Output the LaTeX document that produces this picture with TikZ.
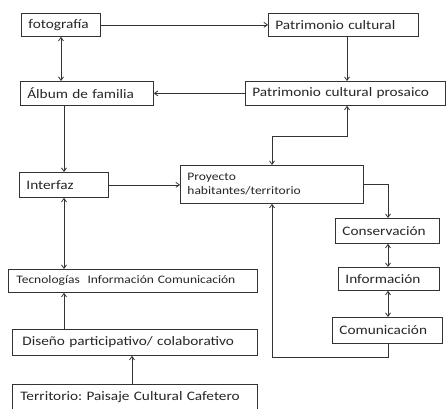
\documentclass[tikz,border=0pt]{standalone}
\usepackage{fontspec}
\setmainfont[FakeStretch=1.18]{Carlito}
\usetikzlibrary{arrows.meta}
\frenchspacing
\begin{document}
\begin{tikzpicture}[x=1bp,y=-1bp,
  bx/.style={draw=black!80, line width=0.8bp, rectangle, anchor=north west, inner ysep=0pt, inner xsep=7bp, align=left, font=\fontsize{13}{15}\selectfont, text=black!85},
  sm/.style={font=\fontsize{11.5}{14}\selectfont},
  ar/.style={draw=black!80, line width=0.8bp, -{Straight Barb[length=3.5bp,width=5bp]}},
  dar/.style={draw=black!80, line width=0.8bp, {Straight Barb[length=3.5bp,width=5bp]}-{Straight Barb[length=3.5bp,width=5bp]}}]
\useasboundingbox (0,0) rectangle (447,408);
\fill[white] (0,0) rectangle (447,408);
% nodes
\node[bx, text width=65bp, minimum height=23bp] (foto) at (21,13) {\mbox{fotografía}};
\node[bx, text width=136bp, minimum height=23bp] (patr) at (268,13) {\mbox{Patrimonio cultural}};
\node[bx, text width=119bp, minimum height=24bp] (album) at (20,81) {\mbox{Álbum de familia}};
\node[bx, text width=186bp, minimum height=24bp] (pros) at (245,81) {\mbox{Patrimonio cultural prosaico}};
\node[bx, text width=75bp, minimum height=25bp] (interfaz) at (19,172) {\mbox{Interfaz}};
\node[bx, sm, text width=169bp, minimum height=38bp] (proy) at (180,165) {Proyecto\\habitantes/territorio};
\node[bx, text width=90bp, minimum height=25bp] (cons) at (335,218) {\mbox{Conservación}};
\node[bx, text width=87bp, minimum height=23bp] (info) at (338,267) {\mbox{Información}};
\node[bx, text width=96bp, minimum height=26bp] (comu) at (332,317) {\mbox{Comunicación}};
\node[bx, sm, text width=233bp, minimum height=23bp, inner xsep=8bp] (tic) at (8,269) {\mbox{Tecnologías\ \ Información Comunicación}};
\node[bx, text width=225bp, minimum height=26bp, inner xsep=10bp] (dis) at (12,329) {\mbox{Diseño participativo/ colaborativo}};
\node[bx, text width=229bp, minimum height=26bp, inner xsep=8bp] (terr) at (12,384) {\mbox{Territorio: Paisaje Cultural Cafetero}};
% coordinates
\coordinate (c1) at (272,136);
\coordinate (c2) at (347,136);
\coordinate (c3) at (388,184);
\coordinate (c4) at (388,357);
\coordinate (c5) at (272,357);
% connectors
\draw[ar] (foto.east) -- (patr.west);
\draw[dar] (foto.south -| 61,0) -- (album.north -| 61,0);
\draw[ar] (patr.south -| 347,0) -- (pros.north -| 347,0);
\draw[ar] (pros.west) -- (album.east);
\draw[ar] (album.south -| 64,0) -- (interfaz.north -| 64,0);
\draw[ar] (interfaz.east) -- (proy.west |- interfaz.east);
\draw[dar] (proy.north -| c1) -- (c1) -- (c2) -- (pros.south -| c2);
\draw[ar] (proy.east |- c3) -- (c3) -- (cons.north -| c3);
\draw[dar] (cons.south -| c3) -- (info.north -| c3);
\draw[dar] (info.south -| c3) -- (comu.north -| c3);
\draw[ar] (comu.south -| c4) -- (c4) -- (c5) -- (proy.south -| c5);
\draw[dar] (interfaz.south -| 64,0) -- (tic.north -| 64,0);
\draw[ar] (dis.north -| 64,0) -- (tic.south -| 64,0);
\draw[ar] (terr.north -| 132,0) -- (dis.south -| 132,0);
\end{tikzpicture}
\end{document}
